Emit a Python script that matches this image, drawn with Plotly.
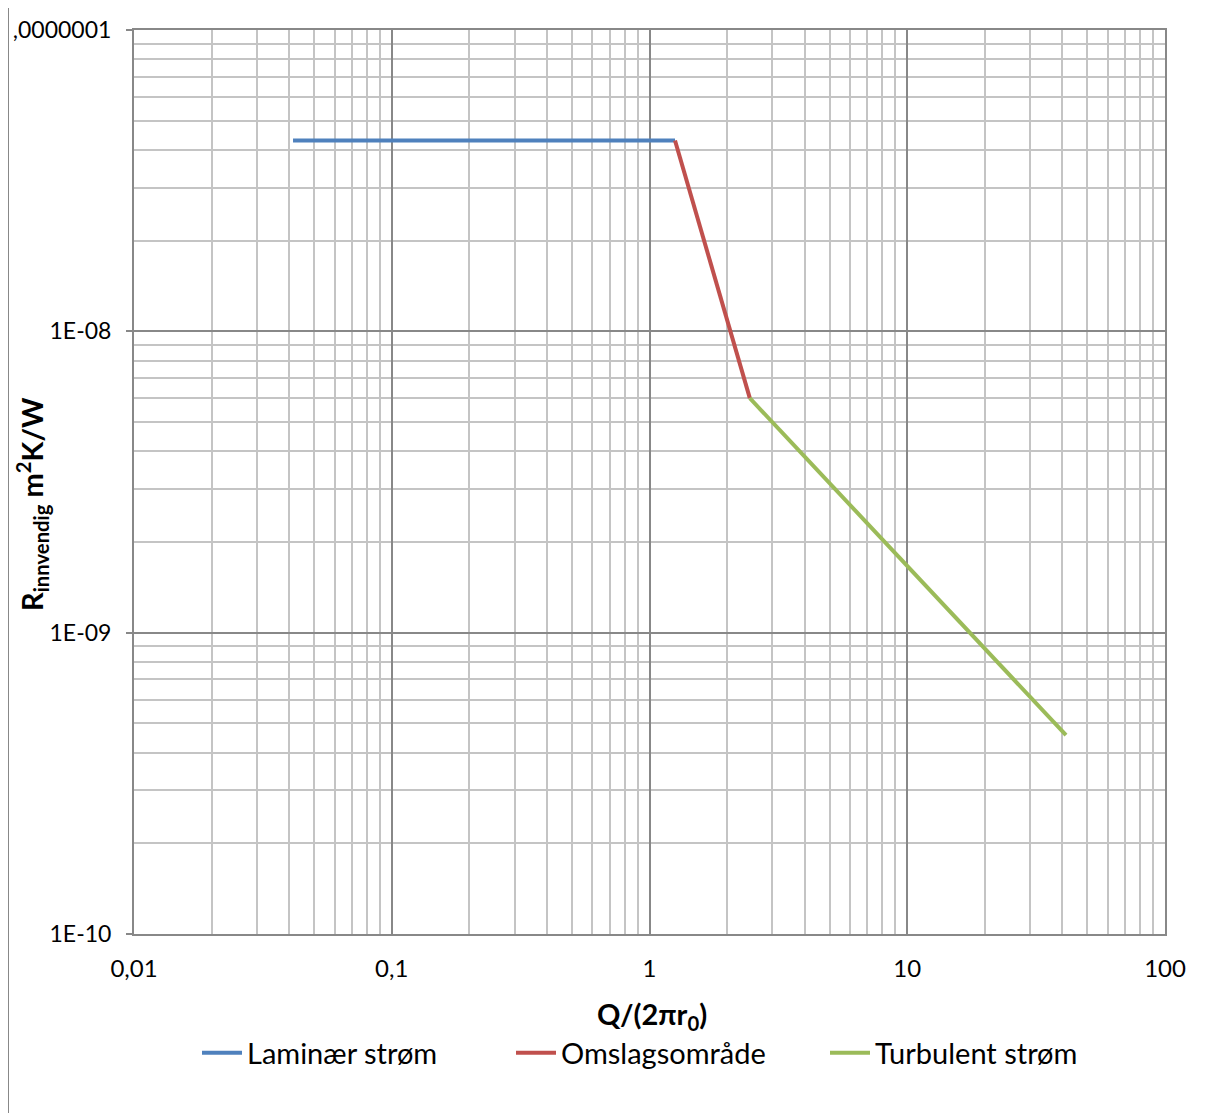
import plotly.graph_objects as go

# Data
lam_x = [0.0414, 1.256]
lam_y = [4.30e-8, 4.30e-8]
oms_x = [1.256, 2.45]
oms_y = [4.30e-8, 6.0e-9]
turb_x = [2.45, 41.3]
turb_y = [6.0e-9, 4.57e-10]

x_tickvals = [0.01, 0.1, 1, 10, 100]
x_ticktext = ["0,01", "0,1", "1", "10", "100"]
y_tickvals = [1e-10, 1e-9, 1e-8, 1e-7]
y_ticktext = ["1E-10", "1E-09", "1E-08", ",0000001"]

FONT = "Lato, Carlito, 'Liberation Sans', sans-serif"
MAJOR = "#888888"
MINOR = "#c4c4c4"

OFF = 8  # default page body margin
W, H = 1214 - OFF, 1113 - OFF
# plot-area edges in page pixels
L, R, T, B = 134, 1165, 30, 934
PW, PH = R - L, B - T


def px_x(p):
    return (p - L) / PW


def px_y(p):
    return (B - p) / PH


fig = go.Figure()
fig.add_trace(go.Scatter(x=lam_x, y=lam_y, mode="lines", name="Laminær strøm",
                         line=dict(color="#4F81BD", width=4)))
fig.add_trace(go.Scatter(x=oms_x, y=oms_y, mode="lines", name="Omslagsområde",
                         line=dict(color="#C0504D", width=4)))
fig.add_trace(go.Scatter(x=turb_x, y=turb_y, mode="lines", name="Turbulent strøm",
                         line=dict(color="#9BBB59", width=4)))

fig.update_layout(
    width=W, height=H,
    margin=dict(l=L - OFF, r=W - (R - OFF), t=T - OFF, b=H - (B - OFF), autoexpand=False),
    paper_bgcolor="white", plot_bgcolor="white",
    font=dict(family=FONT, color="black", size=24),
    showlegend=True,
    legend=dict(orientation="h", x=px_x(668), xanchor="center", y=px_y(1053), yanchor="middle",
                font=dict(size=29), itemwidth=40, entrywidth=259,
                bgcolor="rgba(0,0,0,0)"),
    xaxis=dict(type="log", range=[-2, 2], tickvals=x_tickvals, ticktext=x_ticktext,
               automargin=False,
               showgrid=True, gridcolor=MAJOR, gridwidth=1.5,
               minor=dict(dtick="D1", showgrid=True, gridcolor=MINOR, gridwidth=1.5, ticks=""),
               ticks="outside", ticklen=12, tickcolor="rgba(0,0,0,0)",
               showline=True, linecolor=MAJOR, linewidth=2, mirror=True,
               tickfont=dict(size=24), zeroline=False),
    yaxis=dict(type="log", range=[-10, -7], tickvals=y_tickvals, ticktext=y_ticktext,
               automargin=False,
               showgrid=True, gridcolor=MAJOR, gridwidth=1.5,
               minor=dict(dtick="D1", showgrid=True, gridcolor=MINOR, gridwidth=1.5, ticks=""),
               ticks="outside", ticklen=6, tickcolor=MAJOR, tickwidth=2, ticklabelstandoff=10,
               showline=True, linecolor=MAJOR, linewidth=2, mirror=True,
               tickfont=dict(size=23), zeroline=False),
)

# Axis titles
fig.add_annotation(text="<b>Q/(2πr<sub>0</sub>)</b>", xref="paper", yref="paper",
                   x=px_x(652), y=px_y(1015), xanchor="center", yanchor="middle",
                   showarrow=False, font=dict(size=29, family=FONT))
fig.add_annotation(text="<b>R<sub>innvendig</sub> m<sup>2</sup>K/W</b>", xref="paper", yref="paper",
                   x=px_x(32), y=px_y(504), xanchor="center", yanchor="middle", textangle=-90,
                   showarrow=False, font=dict(size=29, family=FONT))

# Outer chart-area border (partly cropped in the reference)
fig.add_shape(type="rect", xref="paper", yref="paper",
              x0=px_x(8), x1=px_x(1240), y0=px_y(1140), y1=px_y(6),
              line=dict(color="#888888", width=2), fillcolor="rgba(0,0,0,0)", layer="below")

fig.write_html("out.html")
